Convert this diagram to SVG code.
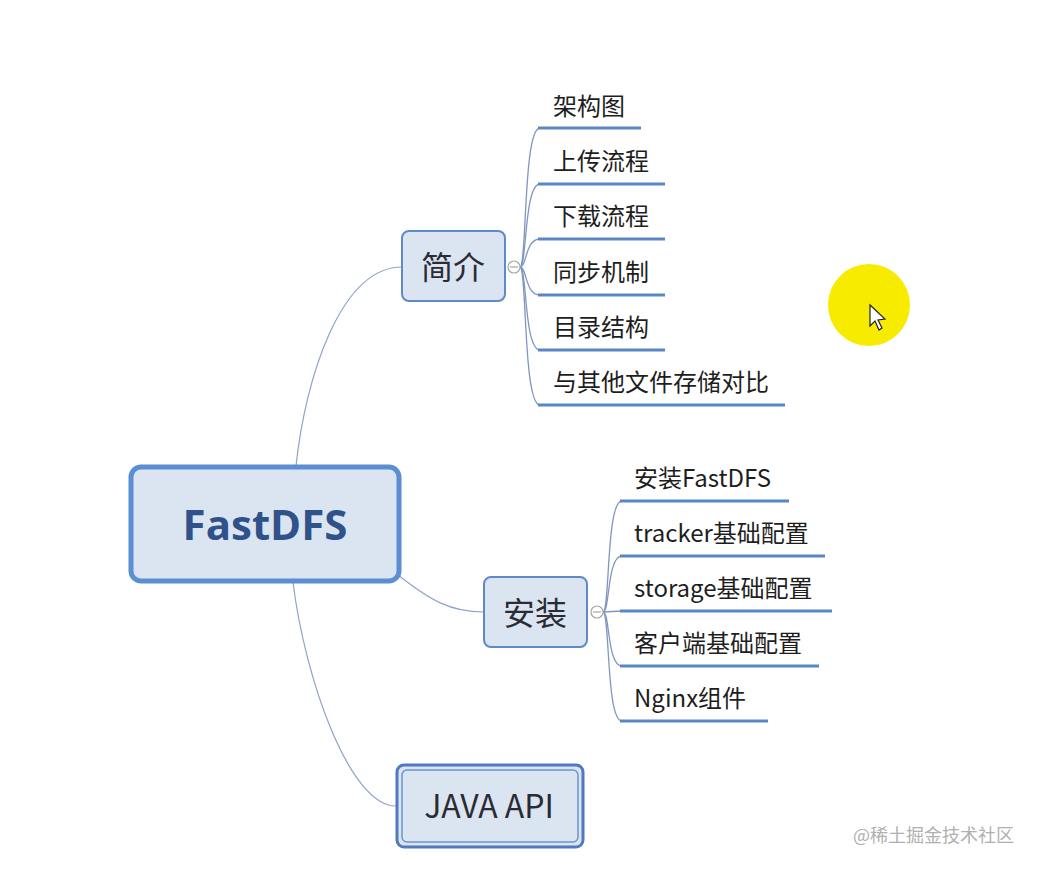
<svg xmlns="http://www.w3.org/2000/svg" width="1037" height="870" viewBox="0 0 1037 870">
<style>
.t{font-family:"Noto Sans CJK SC","Noto Sans",sans-serif;fill:#1e1e1e;font-size:24px}
.n{font-family:"Noto Sans CJK SC","Noto Sans",sans-serif;fill:#2b2b33;font-size:32px;text-anchor:middle}
.c{fill:none;stroke:#8ea4c8;stroke-width:1.2}
.u{stroke:#5b86c4;stroke-width:3}
.b{fill:none;stroke:#7f97c2;stroke-width:1.3}
.box{fill:#dbe5f1;stroke:#5f8ac7;stroke-width:2}
.tog{fill:#fff;stroke:#a6a6a6;stroke-width:1.2}
</style>
<rect width="1037" height="870" fill="#fff"/>
<g id="connectors">
<path class="c" d="M296,466 C305,380 340,267 402,267"/>
<path class="c" d="M398,575 C430,600 450,612 484,612"/>
<path class="c" d="M293,582 C305,680 350,806 396,806"/>
<path class="b" d="M520,267 C527,267 523,128 540,128"/>
<path class="b" d="M520,267 C527,267 524,184 540,184"/>
<path class="b" d="M520,267 C527,267 525,239 540,239"/>
<path class="b" d="M520,267 C527,267 525,295 540,295"/>
<path class="b" d="M520,267 C527,267 524,350 540,350"/>
<path class="b" d="M520,267 C527,267 523,405 540,405"/>
<path class="b" d="M603,612 C610,612 606,501 622,501"/>
<path class="b" d="M603,612 C610,612 607,556 622,556"/>
<path class="b" d="M603,612 L622,611"/>
<path class="b" d="M603,612 C610,612 607,666 622,666"/>
<path class="b" d="M603,612 C610,612 606,721 622,721"/>
</g>
<g id="root">
<rect x="131" y="467" width="268" height="114" rx="10" fill="#dbe5f1" stroke="#5b8ed2" stroke-width="5"/>
<text x="265" y="540" font-family="'Open Sans','Noto Sans',sans-serif" font-weight="bold" font-size="42" fill="#2e5289" text-anchor="middle">FastDFS</text>
</g>
<g id="jianjie">
<rect class="box" x="402" y="231" width="103" height="70" rx="7"/>
<text class="n" x="453" y="279">简介</text>
<circle class="tog" cx="514" cy="267" r="6"/>
<line x1="510" y1="267" x2="518" y2="267" stroke="#a6a6a6" stroke-width="1.2"/>
</g>
<g id="anzhuang">
<rect class="box" x="484" y="577" width="103" height="70" rx="7"/>
<text class="n" x="535" y="625">安装</text>
<circle class="tog" cx="597" cy="612" r="6"/>
<line x1="593" y1="612" x2="601" y2="612" stroke="#a6a6a6" stroke-width="1.2"/>
</g>
<g id="javaapi">
<rect x="397" y="765" width="186" height="82" rx="7" fill="#dbe5f1" stroke="#5079bf" stroke-width="3"/>
<rect x="402" y="770" width="176" height="72" rx="5" fill="none" stroke="#6f94cf" stroke-width="1.5"/>
<text class="n" x="489" y="818">JAVA API</text>
</g>
<g id="c1"><line class="u" x1="538" y1="128" x2="641" y2="128"/><text class="t" x="553" y="115">架构图</text></g>
<g id="c2"><line class="u" x1="538" y1="184" x2="665" y2="184"/><text class="t" x="553" y="170">上传流程</text></g>
<g id="c3"><line class="u" x1="538" y1="239" x2="665" y2="239"/><text class="t" x="553" y="225">下载流程</text></g>
<g id="c4"><line class="u" x1="538" y1="295" x2="665" y2="295"/><text class="t" x="553" y="281">同步机制</text></g>
<g id="c5"><line class="u" x1="538" y1="350" x2="665" y2="350"/><text class="t" x="553" y="336">目录结构</text></g>
<g id="c6"><line class="u" x1="538" y1="405" x2="785" y2="405"/><text class="t" x="553" y="391">与其他文件存储对比</text></g>
<g id="d1"><line class="u" x1="620" y1="501" x2="789" y2="501"/><text class="t" x="634" y="487">安装FastDFS</text></g>
<g id="d2"><line class="u" x1="620" y1="556" x2="825" y2="556"/><text class="t" x="634" y="542">tracker基础配置</text></g>
<g id="d3"><line class="u" x1="620" y1="611" x2="832" y2="611"/><text class="t" x="634" y="597">storage基础配置</text></g>
<g id="d4"><line class="u" x1="620" y1="666" x2="819" y2="666"/><text class="t" x="634" y="652">客户端基础配置</text></g>
<g id="d5"><line class="u" x1="620" y1="721" x2="768" y2="721"/><text class="t" x="634" y="707">Nginx组件</text></g>
<g id="cursor">
<circle cx="869" cy="305" r="41" fill="#f7ec00"/>
<path d="M870,305 L870,326 L875,321 L879,330 L882,328 L878,320 L885,319 Z" fill="#fff" stroke="#222" stroke-width="1.2"/>
</g>
<text x="853" y="842" font-family="'Noto Sans CJK SC',sans-serif" font-size="18" fill="#b0b0b0">@稀土掘金技术社区</text>
</svg>
